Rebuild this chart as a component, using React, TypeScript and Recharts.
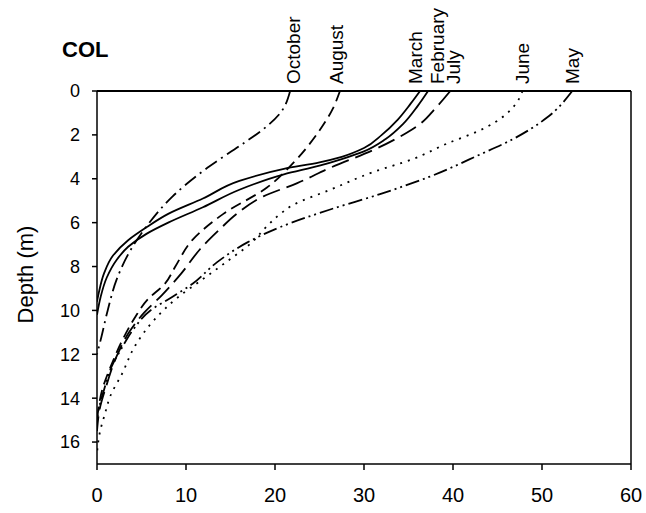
import { LineChart, Line, XAxis, YAxis, ReferenceLine, LabelList } from "recharts";

// each point is [value, depth (m)]
const october = [
  [21.7, 0], [20.6, 1.0], [18.5, 1.8], [16.4, 2.4], [12.4, 3.5], [8.5, 4.8],
  [5.7, 6.1], [3.7, 7.3], [2.2, 8.6], [1.2, 10], [0.5, 11.2], [0, 12],
];
const august = [
  [27.3, 0], [26.5, 0.8], [25, 1.8], [22, 3.3], [19.1, 4.4], [14.2, 5.6],
  [10.7, 6.8], [8.8, 8], [7.6, 8.8], [5.7, 9.5], [4.3, 10.3], [2.8, 11.4],
  [1.7, 12.4], [0.6, 13.6], [0, 15],
];
const march = [
  [36.3, 0], [35.2, 0.6], [33.8, 1.3], [32, 2.0], [30, 2.6], [27.5, 3.0],
  [25, 3.25], [21, 3.55], [16, 4.1], [11.9, 4.9], [8, 5.6], [5.6, 6.2],
  [3.5, 6.8], [1.8, 7.5], [0.8, 8.3], [0.2, 9.2], [0, 9.6],
];
const february = [
  [37.2, 0], [36, 0.7], [34.4, 1.5], [32.4, 2.2], [30, 2.75], [27.5, 3.1],
  [25, 3.4], [21, 3.8], [16, 4.5], [11.9, 5.3], [8, 6.0], [5.6, 6.5],
  [3.5, 7.1], [2.2, 7.7], [1.1, 8.5], [0.4, 9.4], [0, 10.2],
];
const july = [
  [39.7, 0], [38, 0.8], [36.3, 1.5], [34.8, 1.9], [31, 2.7], [26.2, 3.5],
  [22.5, 4.2], [18.7, 4.8], [15.7, 5.6], [13.8, 6.3], [11.6, 7.2], [9.5, 8.3],
  [7.3, 9.3], [5.3, 10.1], [3.6, 11], [2.2, 12.1], [1, 13.5], [0.3, 14.5], [0, 15.5],
];
const june = [
  [47.8, 0], [47.5, 0.3], [43, 1.8], [39.3, 2.4], [35.5, 3.1], [31, 3.7],
  [26.2, 4.5], [22, 5.2], [20.6, 5.6], [19, 6.2], [17.4, 6.9], [14.5, 7.8],
  [11.8, 8.6], [9.1, 9.4], [6.5, 10.4], [4.3, 11.6], [2.8, 12.9], [1.5, 13.9],
  [0.9, 14.7], [0.3, 15.6], [0, 16.5],
];
const may = [
  [53.4, 0], [50.6, 1.2], [46.7, 2.2], [43, 2.9], [37.4, 3.9], [31.8, 4.7],
  [26.2, 5.4], [20.6, 6.2], [16.9, 6.9], [13.5, 7.8], [10.7, 8.8], [8.4, 9.4],
  [6, 10], [4.2, 10.8], [2.8, 11.7], [1.6, 12.6], [0.8, 13.6], [0.2, 14.5], [0, 15],
];

const xTicks = [0, 10, 20, 30, 40, 50, 60];
const yTicks = [0, 2, 4, 6, 8, 10, 12, 14, 16];

const FONT = '"Liberation Sans", Arial, sans-serif';

const series = [
  { name: "October", points: october, dash: "14 5 2 5", dx: 3 },
  { name: "August", points: august, dash: "11 6", dx: -3 },
  { name: "March", points: march, dash: undefined, dx: -5 },
  { name: "February", points: february, dash: undefined, dx: 9 },
  { name: "July", points: july, dash: "18 7", dx: 3 },
  { name: "June", points: june, dash: "2 6", dx: 0 },
  { name: "May", points: may, dash: "14 4 2 4 2 4", dx: 0 },
].map((s) => ({ ...s, data: s.points.map(([v, depth]) => ({ v, depth })) }));

function monthLabel(name: string, dx: number) {
  return (props: any) => {
    if (props.index !== 0) return null;
    const x = props.x + dx;
    const y = 84;
    return (
      <text
        x={x}
        y={y}
        transform={`rotate(-90, ${x}, ${y})`}
        fontSize={19}
        fontFamily={FONT}
        dominantBaseline="central"
        fill="#000"
      >
        {name}
      </text>
    );
  };
}

function DepthLabel(props: any) {
  const vb = props.viewBox;
  const cy = vb.y + vb.height / 2 - 3;
  return (
    <text
      x={25}
      y={cy}
      transform={`rotate(-90, 25, ${cy})`}
      textAnchor="middle"
      dominantBaseline="central"
      fontSize={22}
      fontFamily={FONT}
      fill="#000"
    >
      Depth (m)
    </text>
  );
}

export default function App() {
  return (
    <div style={{ position: "absolute", left: 0, top: 0, width: 646, height: 513, background: "#fff" }}>
      <div
        style={{
          position: "absolute",
          left: 62,
          top: 39,
          fontFamily: FONT,
          fontWeight: "bold",
          fontSize: 22,
          lineHeight: "21px",
        }}
      >
        COL
      </div>
      <LineChart
        width={646}
        height={513}
        layout="vertical"
        margin={{ top: 91, right: 15, left: 0, bottom: 0 }}
      >
        <XAxis
          type="number"
          domain={[0, 60]}
          ticks={xTicks}
          allowDataOverflow
          height={49}
          tickSize={6}
          tickMargin={18}
          stroke="#000"
          strokeWidth={1.5}
          tick={{ fontSize: 20, fill: "#000", fontFamily: FONT }}
        />
        <YAxis
          type="number"
          dataKey="depth"
          domain={[0, 17]}
          ticks={yTicks}
          allowDataOverflow
          width={97}
          tickSize={5}
          tickMargin={12}
          stroke="#000"
          strokeWidth={1.5}
          tick={{ fontSize: 18, fill: "#000", fontFamily: FONT }}
          label={<DepthLabel />}
        />
        <ReferenceLine y={0} stroke="#000" strokeWidth={2} />
        <ReferenceLine x={60} stroke="#000" strokeWidth={1.5} />
        {series.map((s) => (
          <Line
            key={s.name}
            data={s.data}
            dataKey="v"
            type="monotone"
            stroke="#000"
            strokeWidth={1.8}
            strokeDasharray={s.dash}
            dot={false}
            activeDot={false}
            isAnimationActive={false}
          >
            <LabelList dataKey="v" content={monthLabel(s.name, s.dx)} />
          </Line>
        ))}
      </LineChart>
    </div>
  );
}
